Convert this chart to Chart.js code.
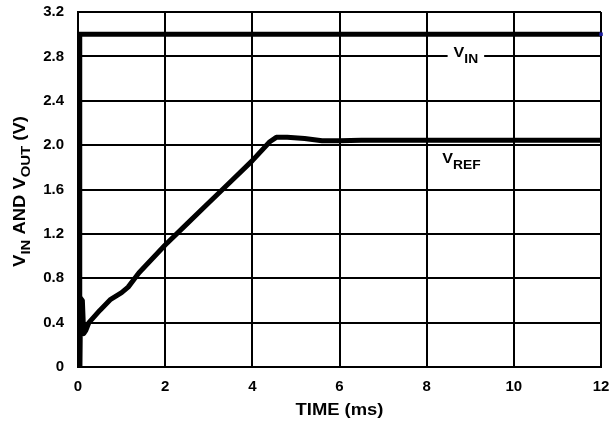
<!DOCTYPE html>
<html>
<head>
<meta charset="utf-8">
<script src="https://cdn.jsdelivr.net/npm/chart.js@4.4.0/dist/chart.umd.min.js"></script>
<style>
  html, body { margin: 0; padding: 0; background: #fff; }
  #wrap { width: 616px; height: 423px; }
</style>
</head>
<body>
<div id="wrap"><canvas id="chart" width="616" height="423"></canvas></div>
<script>
// ── Datos (tiempo en ms, tensión en V) ──
const vinTime   = [0.04, 0.04, 12];
const vinVolts  = [0,    3.0,  3.0];

const vrefTime  = [0.04, 0.06, 0.10, 0.13, 0.18, 0.25, 0.5,  0.75, 1.0,  1.15, 1.4,  2.0,  2.5,  3.0,  3.5,  4.0,  4.4,  4.55, 4.8,  5.2,  5.6,  6.0,  6.5,  7.0,   12];
const vrefVolts = [0,    0.62, 0.60, 0.30, 0.33, 0.40, 0.51, 0.61, 0.67, 0.72, 0.85, 1.10, 1.29, 1.48, 1.67, 1.86, 2.03, 2.07, 2.07, 2.06, 2.04, 2.04, 2.045, 2.045, 2.045];

const xTicks      = [0, 2, 4, 6, 8, 10, 12];
const yTicks      = [0, 0.4, 0.8, 1.2, 1.6, 2.0, 2.4, 2.8, 3.2];
const yTickLabels = ['0', '0.4', '0.8', '1.2', '1.6', '2.0', '2.4', '2.8', '3.2'];

// posiciones de las etiquetas (en unidades de datos)
const vinLabelAt  = { x: 8.9, y: 2.8 };
const vrefLabelAt = { x: 8.8, y: 1.84 };

const FONT = "Arial, 'Liberation Sans', Helvetica, sans-serif";
const STRETCH = 1.15;

// ── Texto con subíndices, estirado horizontalmente ──
function medirRuns(ctx, runs) {
  let total = 0;
  runs.forEach(r => {
    ctx.font = `bold ${r.size}px ${FONT}`;
    r.w = ctx.measureText(r.t).width * STRETCH;
    total += r.w;
  });
  return total;
}

function dibujarRuns(ctx, runs, x, y) {
  let cx = x;
  ctx.textBaseline = 'alphabetic';
  ctx.textAlign = 'left';
  runs.forEach(r => {
    ctx.font = `bold ${r.size}px ${FONT}`;
    ctx.save();
    ctx.translate(cx, y + (r.dy || 0));
    ctx.scale(STRETCH, 1);
    ctx.fillText(r.t, 0, 0);
    ctx.restore();
    cx += r.w;
  });
}

const textosPlugin = {
  id: 'textos',
  afterDatasetsDraw(chart) {
    const { ctx, chartArea, scales } = chart;
    ctx.save();
    ctx.fillStyle = '#000';

    // etiqueta VIN (tapa la línea de rejilla)
    const vin = [{ t: 'V', size: 14 }, { t: 'IN', size: 12, dy: 6 }];
    const wVin = medirRuns(ctx, vin);
    const vx = scales.x.getPixelForValue(vinLabelAt.x);
    const vy = scales.y.getPixelForValue(vinLabelAt.y);
    ctx.fillStyle = '#fff';
    ctx.fillRect(vx - wVin / 2 - 6, vy - 3, wVin + 12, 6);
    ctx.fillStyle = '#000';
    dibujarRuns(ctx, vin, vx - wVin / 2, vy + 1);

    // etiqueta VREF
    const vref = [{ t: 'V', size: 14 }, { t: 'REF', size: 12, dy: 6 }];
    const wRef = medirRuns(ctx, vref);
    const rx = scales.x.getPixelForValue(vrefLabelAt.x);
    const ry = scales.y.getPixelForValue(vrefLabelAt.y);
    dibujarRuns(ctx, vref, rx - wRef / 2, ry);

    // título eje X
    const tx = [{ t: 'TIME (ms)', size: 16 }];
    const wTx = medirRuns(ctx, tx);
    dibujarRuns(ctx, tx, (chartArea.left + chartArea.right) / 2 - wTx / 2, 415);

    // título eje Y (rotado)
    const ty = [
      { t: 'V', size: 16 }, { t: 'IN', size: 13, dy: 5 },
      { t: ' AND V', size: 16 }, { t: 'OUT', size: 13, dy: 5 },
      { t: ' (V)', size: 16 }
    ];
    const wTy = medirRuns(ctx, ty);
    ctx.save();
    ctx.translate(25, (chartArea.top + chartArea.bottom) / 2 + 2);
    ctx.rotate(-Math.PI / 2);
    dibujarRuns(ctx, ty, -wTy / 2, 0);
    ctx.restore();

    ctx.restore();
  }
};

const toXY = (xs, ys) => xs.map((x, i) => ({ x, y: ys[i] }));

new Chart(document.getElementById('chart'), {
  type: 'scatter',
  data: {
    datasets: [
      {
        label: 'VIN',
        data: toXY(vinTime, vinVolts),
        showLine: true,
        borderColor: '#000',
        borderWidth: 5,
        pointRadius: ctx => ctx.dataIndex === vinTime.length - 1 ? 2.5 : 0,
        pointStyle: 'rect',
        pointBackgroundColor: '#1a1a9c',
        pointBorderWidth: 0,
        tension: 0,
        clip: 5
      },
      {
        label: 'VREF',
        data: toXY(vrefTime, vrefVolts),
        showLine: true,
        borderColor: '#000',
        borderWidth: 5,
        borderJoinStyle: 'round',
        pointRadius: 0,
        tension: 0,
        clip: 5
      }
    ]
  },
  options: {
    responsive: false,
    animation: false,
    layout: { padding: { top: 12, right: 15, left: 0, bottom: 0 } },
    plugins: {
      legend: { display: false },
      tooltip: { enabled: false }
    },
    scales: {
      x: {
        type: 'linear',
        min: 0, max: 12,
        afterBuildTicks: s => { s.ticks = xTicks.map(v => ({ value: v })); },
        afterFit: s => { s.height = 56; s.paddingLeft = 0; s.paddingRight = 0; },
        grid: { color: '#000', lineWidth: 2, drawTicks: false },
        border: { display: true, color: '#000', width: 2 },
        ticks: { color: '#000', padding: 11, font: { family: FONT, size: 15, weight: 'bold' } }
      },
      y: {
        type: 'linear',
        min: 0, max: 3.2,
        afterBuildTicks: s => { s.ticks = yTicks.map(v => ({ value: v })); },
        afterFit: s => { s.width = 78; s.paddingTop = 0; s.paddingBottom = 0; },
        grid: { color: '#000', lineWidth: 2, drawTicks: false },
        border: { display: true, color: '#000', width: 2 },
        ticks: {
          color: '#000', padding: 14,
          font: { family: FONT, size: 15, weight: 'bold' },
          callback: v => yTickLabels[yTicks.findIndex(t => Math.abs(t - v) < 1e-6)]
        }
      }
    }
  },
  plugins: [textosPlugin]
});
</script>
</body>
</html>
